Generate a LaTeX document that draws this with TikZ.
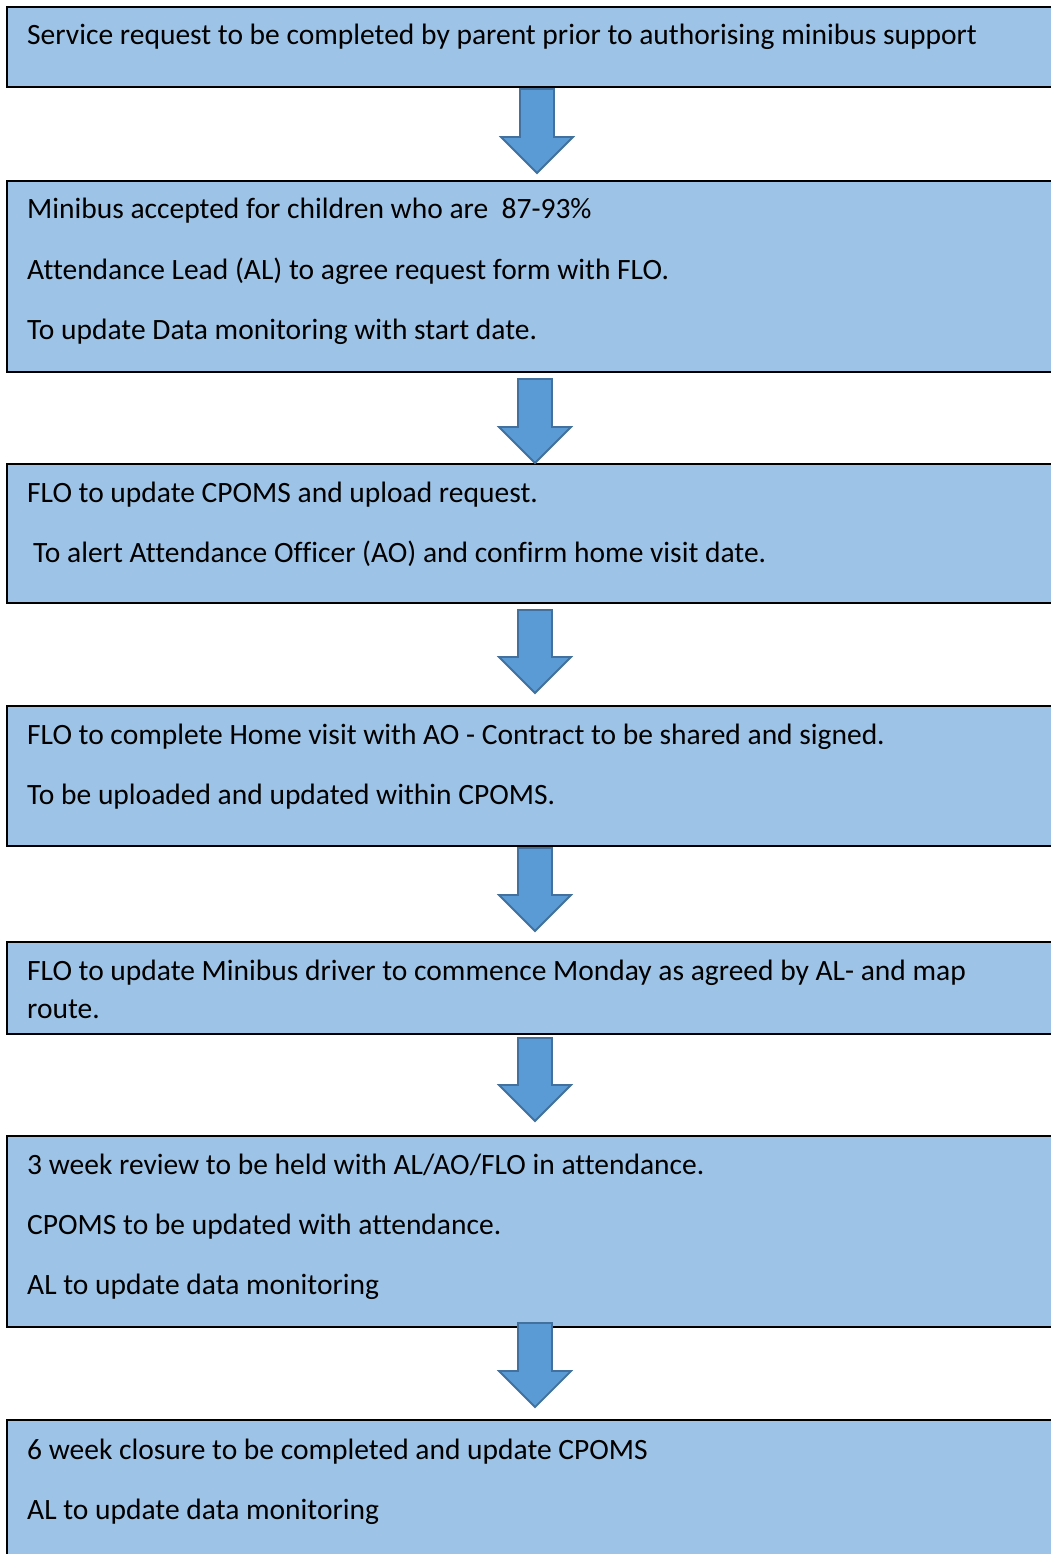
\documentclass[tikz,border=0pt]{standalone}
\usepackage{fontspec}
\setmainfont{Carlito}[Ligatures={NoCommon}]
\definecolor{boxfill}{HTML}{9DC3E6}
\definecolor{arrfill}{HTML}{5B9BD5}
\definecolor{arrline}{HTML}{41719C}
\tikzset{
  stepbox/.style={draw=black, line width=2pt, fill=boxfill},
  txt/.style={anchor=base west, inner sep=0pt, font=\fontsize{29.5}{34}\selectfont},
  blockarr/.style={draw=arrline, line width=1.8pt, fill=arrfill, line join=miter},
}
\newcommand\blockarrow[4]{% name, cx, top, tip
  \path[blockarr] (#2-17,#3) -- (#2+17,#3) -- (#2+17,#4-36) -- (#2+36,#4-36)
    -- (#2,#4) -- (#2-36,#4-36) -- (#2-17,#4-36) -- cycle;
  \coordinate (#1) at (#2,#4);
}
\begin{document}
\begin{tikzpicture}[x=1pt,y=-1pt]
\useasboundingbox (0,0) rectangle (1051,1554);
\clip (0,0) rectangle (1051,1554);
\fill[white] (0,0) rectangle (1051,1554);
% boxes
\draw[stepbox] (7,7) rectangle (1070,87);
\node[inner sep=0pt] (b1) at (528,47) {};
\draw[stepbox] (7,181) rectangle (1070,372);
\node[inner sep=0pt] (b2) at (528,276) {};
\draw[stepbox] (7,464) rectangle (1070,603);
\node[inner sep=0pt] (b3) at (528,533) {};
\draw[stepbox] (7,706) rectangle (1070,846);
\node[inner sep=0pt] (b4) at (528,776) {};
\draw[stepbox] (7,942) rectangle (1070,1034);
\node[inner sep=0pt] (b5) at (528,988) {};
\draw[stepbox] (7,1136) rectangle (1070,1327);
\node[inner sep=0pt] (b6) at (528,1231) {};
\draw[stepbox] (7,1420) rectangle (1070,1580);
\node[inner sep=0pt] (b7) at (528,1490) {};
% arrows
\blockarrow{a1}{537}{89}{173}
\blockarrow{a2}{535}{379}{463}
\blockarrow{a3}{535}{610}{693}
\blockarrow{a4}{535}{848}{931}
\blockarrow{a5}{535}{1038}{1121}
\blockarrow{a6}{535}{1323}{1407}
% texts
\node[txt] (t1) at (27,45) {Service request to be completed by parent prior to authorising minibus support};
\node[txt] (t2a) at (27,219) {Minibus accepted for children who are\ \ 87-93\%};
\node[txt] (t2b) at (27,279) {Attendance Lead (AL) to agree request form with FLO.};
\node[txt] (t2c) at (27,339) {To update Data monitoring with start date.};
\node[txt] (t3a) at (27,502) {FLO to update CPOMS and upload request.};
\node[txt] (t3b) at (33,562) {To alert Attendance Officer (AO) and confirm home visit date.};
\node[txt] (t4a) at (27,744) {FLO to complete Home visit with AO - Contract to be shared and signed.};
\node[txt] (t4b) at (27,804) {To be uploaded and updated within CPOMS.};
\node[txt] (t5a) at (27,980) {FLO to update Minibus driver to commence Monday as agreed by AL- and map};
\node[txt] (t5b) at (27,1018) {route.};
\node[txt] (t6a) at (27,1174) {3 week review to be held with AL/AO/FLO in attendance.};
\node[txt] (t6b) at (27,1234) {CPOMS to be updated with attendance.};
\node[txt] (t6c) at (27,1294) {AL to update data monitoring};
\node[txt] (t7a) at (27,1459) {6 week closure to be completed and update CPOMS};
\node[txt] (t7b) at (27,1519) {AL to update data monitoring};
\end{tikzpicture}
\end{document}
